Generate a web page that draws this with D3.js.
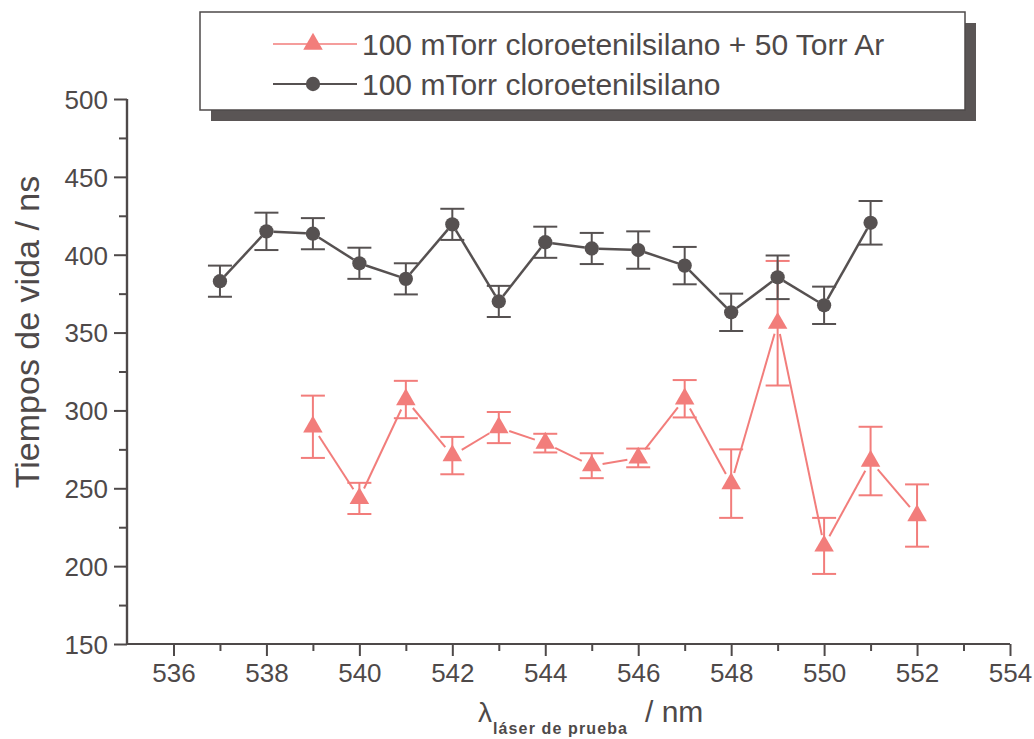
<!DOCTYPE html>
<html lang="es">
  <head>
    <meta charset="UTF-8" />
    <title>Tiempos de vida</title>
    <style type="text/css">
      body { margin: 0; background: #fff; }
      svg { display: block; font-family: 'Liberation Sans', Arial, sans-serif; }
    </style>
    <script src="https://d3js.org/d3.v7.min.js"></script>
  </head>
  <body>
    <div class="d3Chart"></div>
    <script type="text/javascript">
      // datos: 100 mTorr cloroetenilsilano
      const lambdaBlack = [537, 538, 539, 540, 541, 542, 543, 544, 545, 546, 547, 548, 549, 550, 551]
      const tauBlack = [383, 415, 413.5, 394.5, 384.5, 419.5, 370, 408, 404, 403, 393, 363, 385.5, 367.5, 420.5]
      const errBlack = [10, 12, 10, 10, 10, 10, 10, 10, 10, 12, 12, 12, 14, 12, 14]

      // datos: 100 mTorr cloroetenilsilano + 50 Torr Ar
      const lambdaRed = [539, 540, 541, 542, 543, 544, 545, 546, 547, 548, 549, 550, 551, 552]
      const tauRed = [289.5, 243.5, 307, 271, 289, 279, 264.5, 269.5, 307.5, 253, 356, 213, 267.5, 232.5]
      const errRed = [20, 10, 12, 12, 10, 6, 8, 6, 12, 22, 40, 18, 22, 20]

      const xTicks = [536, 538, 540, 542, 544, 546, 548, 550, 552, 554]
      const xMinor = [537, 539, 541, 543, 545, 547, 549, 551, 553]
      const yTicks = [150, 200, 250, 300, 350, 400, 450, 500]
      const yMinor = [175, 225, 275, 325, 375, 425, 475]

      const legendLabels = ['100 mTorr cloroetenilsilano + 50 Torr Ar', '100 mTorr cloroetenilsilano']

      const width = 1034
      const height = 739
      const ink = '#4e4949'
      const red = '#f27d7b'
      const dark = '#565151'

      const svg = d3.select('.d3Chart').append('svg').attr('width', width).attr('height', height)

      const x = d3.scaleLinear().domain([535, 554]).range([127, 1010])
      const y = d3.scaleLinear().domain([150, 500]).range([644, 99])

      // ejes
      const gx = svg.append('g').attr('transform', `translate(0, ${y(150)})`)
      gx.call(d3.axisBottom(x).tickValues(xTicks).tickSize(12).tickPadding(8).tickFormat(d3.format('d')))
      gx.append('g').call(d3.axisBottom(x).tickValues(xMinor).tickSize(7).tickFormat(''))
      gx.selectAll('.domain').attr('d', `M${x(535)},0H${x(554)}`)

      const gy = svg.append('g').attr('transform', `translate(${x(535)}, 0)`)
      gy.call(d3.axisLeft(y).tickValues(yTicks).tickSize(13).tickPadding(6).tickFormat(d3.format('d')))
      gy.append('g').call(d3.axisLeft(y).tickValues(yMinor).tickSize(8).tickFormat(''))
      gy.selectAll('.domain').attr('d', `M0,${y(150)}V${y(500)}`)

      svg.selectAll('.domain').attr('stroke', ink).attr('stroke-width', 2.2)
      svg.selectAll('.tick line').attr('stroke', ink).attr('stroke-width', 2)
      svg.selectAll('.tick text').attr('fill', ink).style('font-size', '26px')
      gy.selectAll('.tick text').attr('dy', '0.36em')

      // titulos de ejes
      svg
        .append('text')
        .attr('transform', 'translate(39, 332) rotate(-90)')
        .attr('text-anchor', 'middle')
        .attr('fill', ink)
        .style('font-size', '34px')
        .text('Tiempos de vida / ns')

      const xt = svg.append('text').attr('fill', ink).attr('y', 722)
      xt.append('tspan').attr('x', 478).style('font-size', '28px').text('λ')
      xt.append('tspan')
        .attr('x', 493)
        .attr('dy', 12)
        .style('font-size', '16px')
        .style('font-weight', 'bold')
        .attr('textLength', 134)
        .text('láser de prueba')
      xt.append('tspan').attr('x', 645).attr('dy', -12).style('font-size', '30px').text('/ nm')

      // recorta segmentos para dejar hueco alrededor de los marcadores
      function gapSegments(px, py, gap) {
        const segs = []
        for (let i = 0; i < px.length - 1; i++) {
          const x0 = x(px[i]), y0 = y(py[i]), x1 = x(px[i + 1]), y1 = y(py[i + 1])
          const len = Math.hypot(x1 - x0, y1 - y0)
          const ux = (x1 - x0) / len, uy = (y1 - y0) / len
          segs.push([x0 + ux * gap, y0 + uy * gap, x1 - ux * gap, y1 - uy * gap])
        }
        return segs
      }

      function drawSeries(lam, tau, err, color, gap, lw, marker) {
        const g = svg.append('g')
        const idx = d3.range(lam.length)

        g.selectAll('line.seg')
          .data(gapSegments(lam, tau, gap))
          .join('line')
          .attr('x1', (d) => d[0])
          .attr('y1', (d) => d[1])
          .attr('x2', (d) => d[2])
          .attr('y2', (d) => d[3])
          .attr('stroke', color)
          .attr('stroke-width', lw)

        const eb = g.selectAll('g.err').data(idx).join('g').attr('stroke', color).attr('stroke-width', 2)
        eb.append('line')
          .attr('x1', (i) => x(lam[i]))
          .attr('x2', (i) => x(lam[i]))
          .attr('y1', (i) => y(tau[i] - err[i]))
          .attr('y2', (i) => y(tau[i] + err[i]))
        eb.append('line')
          .attr('x1', (i) => x(lam[i]) - 12)
          .attr('x2', (i) => x(lam[i]) + 12)
          .attr('y1', (i) => y(tau[i] + err[i]))
          .attr('y2', (i) => y(tau[i] + err[i]))
        eb.append('line')
          .attr('x1', (i) => x(lam[i]) - 12)
          .attr('x2', (i) => x(lam[i]) + 12)
          .attr('y1', (i) => y(tau[i] - err[i]))
          .attr('y2', (i) => y(tau[i] - err[i]))

        g.selectAll('path.mk')
          .data(idx)
          .join('path')
          .attr('transform', (i) => `translate(${x(lam[i])}, ${y(tau[i])})`)
          .attr('d', marker)
          .attr('fill', color)
      }

      const tri = d3.symbol(d3.symbolTriangle, 165)()
      const circ = d3.symbol(d3.symbolCircle, 160)()

      drawSeries(lambdaRed, tauRed, errRed, red, 11, 2, tri)
      drawSeries(lambdaBlack, tauBlack, errBlack, dark, 7, 2.5, circ)

      // leyenda
      const lg = svg.append('g')
      lg.append('rect').attr('x', 211).attr('y', 23).attr('width', 765).attr('height', 98).attr('fill', '#5a5555')
      lg.append('rect')
        .attr('x', 200)
        .attr('y', 12)
        .attr('width', 765)
        .attr('height', 98)
        .attr('fill', '#fff')
        .attr('stroke', ink)
        .attr('stroke-width', 1.5)

      const entries = [
        { label: legendLabels[0], color: red, marker: tri, lw: 1.5 },
        { label: legendLabels[1], color: dark, marker: circ, lw: 2 }
      ]
      entries.forEach((e, i) => {
        const cy = 44 + i * 40
        lg.append('line').attr('x1', 273).attr('x2', 357).attr('y1', cy).attr('y2', cy).attr('stroke', e.color).attr('stroke-width', e.lw)
        lg.append('path').attr('transform', `translate(313, ${cy})`).attr('d', e.marker).attr('fill', e.color)
        lg.append('text')
          .attr('x', 362)
          .attr('y', cy + 11)
          .attr('fill', ink)
          .style('font-size', '30px')
          .text(e.label)
      })
    </script>
  </body>
</html>
